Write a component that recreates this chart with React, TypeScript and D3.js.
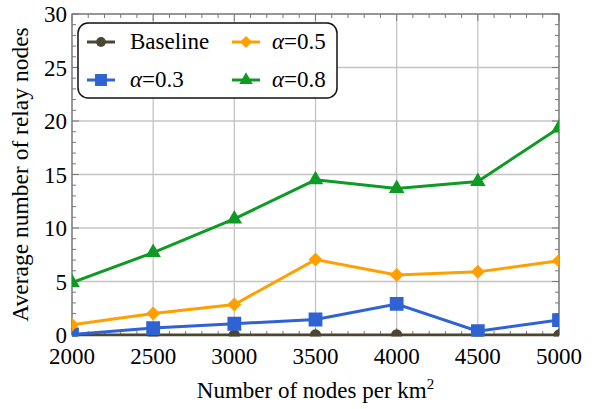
import React from 'react';
import * as d3 from 'd3';

const nodes = [2000, 2500, 3000, 3500, 4000, 4500, 5000];
const baseline = [0, 0, 0, 0, 0, 0, 0];
const alpha03 = [0.05, 0.65, 1.05, 1.45, 2.9, 0.35, 1.4];
const alpha05 = [0.95, 2.0, 2.85, 7.05, 5.6, 5.9, 6.95];
const alpha08 = [4.9, 7.7, 10.85, 14.5, 13.7, 14.35, 19.35];
const xTicks = [2000, 2500, 3000, 3500, 4000, 4500, 5000];
const yTicks = [0, 5, 10, 15, 20, 25, 30];

const series = [
  { name: 'Baseline', values: baseline, color: '#4a4632', marker: 'circle' },
  { name: 'α=0.3', values: alpha03, color: '#2f63d3', marker: 'square' },
  { name: 'α=0.5', values: alpha05, color: '#ffa000', marker: 'diamond' },
  { name: 'α=0.8', values: alpha08, color: '#0e9a24', marker: 'triangle' },
];

const W = 597;
const H = 409;
const m = { left: 72, right: 38, top: 14, bottom: 74 };
const font = 'Liberation Serif';

const symbolFor = (k: string) =>
  k === 'circle' ? d3.symbolCircle : k === 'square' ? d3.symbolSquare : k === 'diamond' ? d3.symbolDiamond2 : d3.symbolTriangle;
const sizeFor = (k: string) => (k === 'circle' ? 100 : k === 'square' ? 190 : k === 'diamond' ? 125 : 105);

const Marker = ({ kind, color, x, y, scale = 1 }: any) => (
  <path
    d={d3.symbol(symbolFor(kind), sizeFor(kind) * scale)() as string}
    transform={`translate(${x},${y})`}
    fill={color}
  />
);

const App = () => {
  const pw = W - m.left - m.right;
  const ph = H - m.top - m.bottom;
  const x = d3.scaleLinear().domain([2000, 5000]).range([0, pw]);
  const y = d3.scaleLinear().domain([0, 30]).range([ph, 0]);
  const line = d3.line<number>().x((_, i) => x(nodes[i])).y(d => y(d));

  const minorX = d3.range(2000, 5001, 100).filter(v => v % 500 !== 0);
  const minorY = d3.range(0, 31, 1).filter(v => v % 5 !== 0);
  const frame = '#777';

  return (
    <svg width={W} height={H} style={{ position: 'absolute', left: 0, top: 0 }}>
      <defs>
        <clipPath id="plot">
          <rect x={0} y={0} width={pw} height={ph + 1.5} />
        </clipPath>
      </defs>
      <g transform={`translate(${m.left},${m.top})`}>
        {xTicks.map(v => (
          <line key={'gx' + v} x1={x(v)} x2={x(v)} y1={0} y2={ph} stroke="#c4c4c4" strokeWidth={1.3} />
        ))}
        {yTicks.map(v => (
          <line key={'gy' + v} x1={0} x2={pw} y1={y(v)} y2={y(v)} stroke="#c4c4c4" strokeWidth={1.3} />
        ))}
        {minorX.map(v => (
          <g key={'mx' + v}>
            <line x1={x(v)} x2={x(v)} y1={ph} y2={ph - 4} stroke={frame} />
            <line x1={x(v)} x2={x(v)} y1={0} y2={4} stroke={frame} />
          </g>
        ))}
        {minorY.map(v => (
          <g key={'my' + v}>
            <line x1={0} x2={4} y1={y(v)} y2={y(v)} stroke={frame} />
            <line x1={pw} x2={pw - 4} y1={y(v)} y2={y(v)} stroke={frame} />
          </g>
        ))}
        {xTicks.map(v => (
          <g key={'tx' + v}>
            <line x1={x(v)} x2={x(v)} y1={ph} y2={ph - 7} stroke={frame} />
            <line x1={x(v)} x2={x(v)} y1={0} y2={7} stroke={frame} />
          </g>
        ))}
        {yTicks.map(v => (
          <g key={'ty' + v}>
            <line x1={0} x2={7} y1={y(v)} y2={y(v)} stroke={frame} />
            <line x1={pw} x2={pw - 7} y1={y(v)} y2={y(v)} stroke={frame} />
          </g>
        ))}
        <rect x={0} y={0} width={pw} height={ph} fill="none" stroke={frame} strokeWidth={1.3} />

        <g clipPath="url(#plot)">
          {series.map(s => (
            <g key={s.name}>
              <path d={line(s.values) as string} fill="none" stroke={s.color} strokeWidth={3} />
              {s.values.map((v, i) => (
                <Marker key={i} kind={s.marker} color={s.color} x={x(nodes[i])} y={y(v)} />
              ))}
            </g>
          ))}
        </g>

        {xTicks.map(v => (
          <text key={'lx' + v} x={x(v)} y={ph + 29} textAnchor="middle" fontFamily={font} fontSize={23}>
            {v}
          </text>
        ))}
        {yTicks.map(v => (
          <text key={'ly' + v} x={-5} y={y(v) + 8} textAnchor="end" fontFamily={font} fontSize={23}>
            {v}
          </text>
        ))}

        <g transform="translate(6,9)">
          <rect x={0} y={0} width={259} height={75} rx={10} fill="white" stroke="#111" strokeWidth={1.5} />
          {series.map((s, i) => {
            const col = i < 2 ? 0 : 1;
            const row = i % 2;
            const lx = 9 + col * 145;
            const ly = 19 + row * 38;
            const isAlpha = s.name.startsWith('α');
            return (
              <g key={'lg' + s.name} transform={`translate(${lx},${ly})`}>
                <line x1={0} x2={28} y1={0} y2={0} stroke={s.color} strokeWidth={3} />
                <Marker kind={s.marker} color={s.color} x={14} y={0} scale={0.75} />
                <text x={col === 0 ? 43 : 40} y={7} fontFamily={font} fontSize={23}>
                  {isAlpha ? (
                    <>
                      <tspan fontStyle="italic">α</tspan>
                      {s.name.slice(1)}
                    </>
                  ) : (
                    s.name
                  )}
                </text>
              </g>
            );
          })}
        </g>
      </g>

      <text
        transform={`translate(28,${m.top + ph / 2}) rotate(-90)`}
        textAnchor="middle"
        fontFamily={font}
        fontSize={23.5}
      >
        Average number of relay nodes
      </text>
      <text x={m.left + pw / 2} y={398} textAnchor="middle" fontFamily={font} fontSize={23}>
        Number of nodes per km<tspan dy={-9} fontSize={15}>2</tspan>
      </text>
    </svg>
  );
};

export default App;
